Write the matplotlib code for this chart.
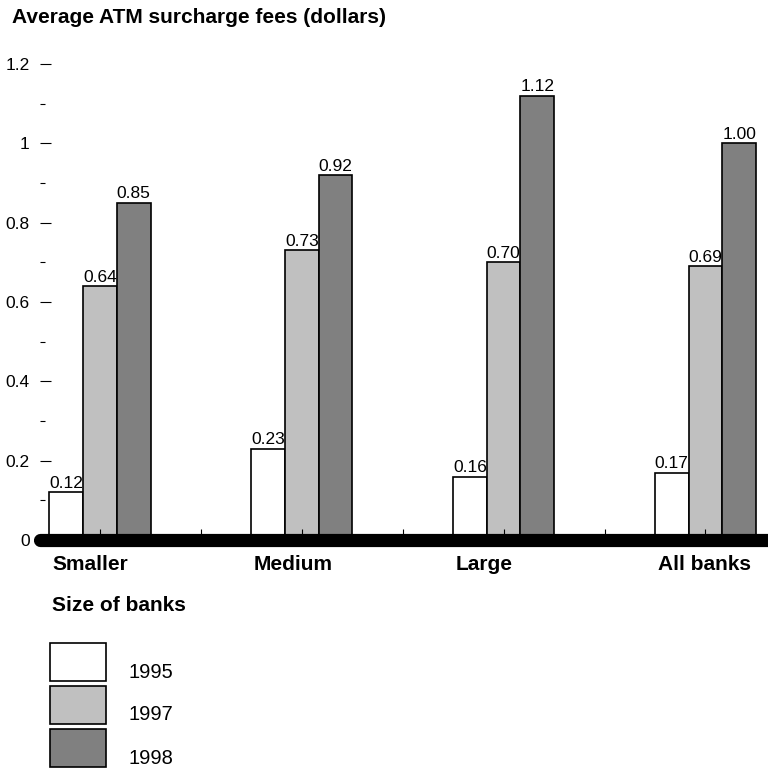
import matplotlib.pyplot as plt
from matplotlib.patches import Rectangle
import numpy as np

plt.rcParams['font.family'] = ['Liberation Sans', 'DejaVu Sans']

# Average ATM surcharge fees by bank size
bank_sizes = ['Smaller', 'Medium', 'Large', 'All banks']
years = ['1995', '1997', '1998']
fees_1995 = [0.12, 0.23, 0.16, 0.17]
fees_1997 = [0.64, 0.73, 0.70, 0.69]
fees_1998 = [0.85, 0.92, 1.12, 1.00]
colors = ['white', '#c0c0c0', '#808080']

series = [fees_1995, fees_1997, fees_1998]
y_ticks = [0, 0.2, 0.4, 0.6, 0.8, 1.0, 1.2]
y_labels = ['0', '0.2', '0.4', '0.6', '0.8', '1', '1.2']

W, H = 768, 769
fig = plt.figure(figsize=(W / 100, H / 100), dpi=100)
ax = fig.add_axes([40 / W, (H - 540) / H, 1 - 40 / W, (540 - 64) / H])

x = np.arange(len(bank_sizes))
w = 0.167
for k, (vals, col) in enumerate(zip(series, colors)):
    xs = x + (k - 1) * w
    ax.bar(xs, vals, width=w, color=col, edgecolor='black', linewidth=1.2, zorder=2)
    for xi, v in zip(xs, vals):
        ax.annotate(f'{v:.2f}', (xi, v), xytext=(0, 1), textcoords='offset points',
                    ha='center', va='bottom', fontsize=12.5)

ax.set_xlim(-0.297, 3.31)
ax.set_ylim(0, 1.2)
ax.set_axisbelow(False)

# thick baseline
ax.axhline(0, color='black', linewidth=9.5, solid_capstyle='round', clip_on=False, zorder=3)

for s in ax.spines.values():
    s.set_visible(False)

ax.set_yticks(y_ticks)
ax.set_yticklabels(y_labels, fontsize=12.5)
ax.set_yticks(np.arange(0.1, 1.2, 0.2), minor=True)
ax.tick_params(axis='y', which='major', direction='in', length=8, width=0.8, pad=7.5)
ax.tick_params(axis='y', which='minor', direction='in', length=3.6, width=0.8)

ax.set_xticks(x)
ax.set_xticks(x[:-1] + 0.5, minor=True)
ax.set_xticklabels([])
ax.tick_params(axis='x', which='both', direction='in', length=8, width=0.8)

for xi, name in zip(x, bank_sizes):
    ax.annotate(name, (xi - 1.5 * w, 0), xytext=(2, -11), textcoords='offset points',
                ha='left', va='top', fontsize=15, fontweight='bold')

fig.text(12 / W, 1 - 8 / H, 'Average ATM surcharge fees (dollars)', ha='left', va='top',
         fontsize=15, fontweight='bold')
fig.text(52 / W, 1 - 596 / H, 'Size of banks', ha='left', va='top',
         fontsize=15, fontweight='bold')

# legend boxes
box_tops = [643, 686, 729]
for top, col, yr in zip(box_tops, colors, years):
    fig.patches.append(Rectangle((50 / W, 1 - (top + 38) / H), 56 / W, 38 / H,
                                 transform=fig.transFigure, facecolor=col,
                                 edgecolor='black', linewidth=1.2))
    fig.text(128 / W, 1 - (top + 29) / H, yr, ha='left', va='center', fontsize=14.5)

fig.savefig('out.png', dpi=100)
